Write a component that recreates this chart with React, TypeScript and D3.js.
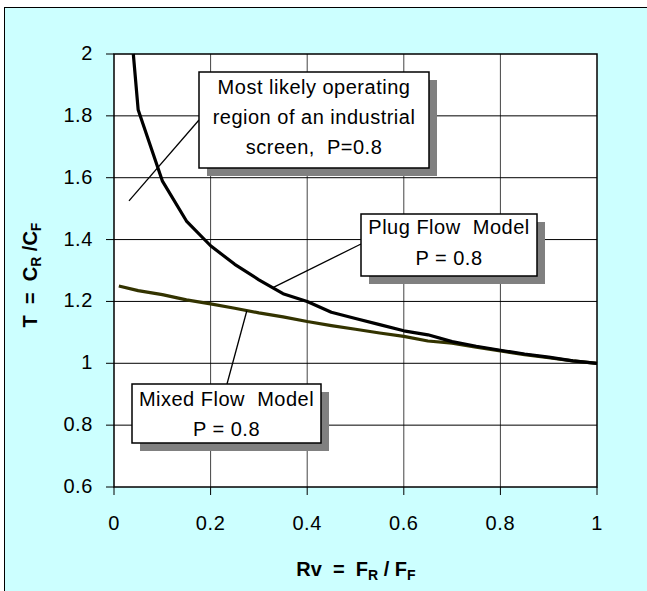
import React from "react";
import * as d3 from "d3";

const xTicks = [0, 0.2, 0.4, 0.6, 0.8, 1];
const yTicks = [0.6, 0.8, 1, 1.2, 1.4, 1.6, 1.8, 2];

const plugX = [0.04, 0.05, 0.1, 0.15, 0.2, 0.25, 0.3, 0.35, 0.4, 0.45, 0.5, 0.55, 0.6, 0.65, 0.7, 0.75, 0.8, 0.85, 0.9, 0.95, 1];
const plugY = [2.0, 1.82, 1.59, 1.46, 1.38, 1.32, 1.27, 1.225, 1.2, 1.165, 1.145, 1.125, 1.105, 1.092, 1.07, 1.055, 1.042, 1.03, 1.02, 1.008, 1.0];

const mixedX = [0.01, 0.05, 0.1, 0.15, 0.2, 0.25, 0.3, 0.35, 0.4, 0.45, 0.5, 0.55, 0.6, 0.65, 0.7, 0.75, 0.8, 0.85, 0.9, 0.95, 1];
const mixedY = [1.25, 1.235, 1.222, 1.205, 1.192, 1.178, 1.163, 1.15, 1.135, 1.122, 1.11, 1.098, 1.087, 1.072, 1.065, 1.052, 1.04, 1.028, 1.018, 1.008, 1.0];

const boxLines1 = ["Most likely operating", "region of an industrial", "screen,  P=0.8"];
const boxLines2 = ["Plug Flow  Model", "P = 0.8"];
const boxLines3 = ["Mixed Flow  Model", "P = 0.8"];

const W = 647, H = 591;
const L = 114, R = 597, T = 54, B = 487;
const FONT = "Arial, 'Liberation Sans', sans-serif";

export default function App() {
  const x = d3.scaleLinear().domain([0, 1]).range([L, R]);
  const y = d3.scaleLinear().domain([0.6, 2]).range([B, T]);
  const line = d3.line<[number, number]>().x(d => x(d[0])).y(d => y(d[1]));
  const plug = plugX.map((v, i) => [v, plugY[i]] as [number, number]);
  const mixed = mixedX.map((v, i) => [v, mixedY[i]] as [number, number]);

  const boxes = [
    { lines: boxLines1, x0: 199, y0: 72, w: 230, h: 96, base: 94, step: 30, from: [0.031, 1.525], to: [199, 120] },
    { lines: boxLines2, x0: 361, y0: 214, w: 176, h: 62, base: 234, step: 31, from: [0.327, 1.243], to: [361, 244] },
    { lines: boxLines3, x0: 132, y0: 384, w: 189, h: 59, base: 406, step: 30, from: [0.275, 1.17], to: [227, 384] },
  ];

  return (
    <svg width={W} height={H} style={{ position: "absolute", left: 0, top: 0, display: "block" }} fontFamily={FONT}>
      <rect x={0} y={0} width={W} height={H} fill="#ffffff" />
      <rect x={4.5} y={7.5} width={W + 20} height={H + 20} fill="#CCFFFF" stroke="#000" strokeWidth={1} />
      <rect x={L} y={T} width={R - L} height={B - T} fill="#ffffff" />
      {xTicks.slice(1, -1).map(t => (
        <line key={"gx" + t} x1={x(t)} x2={x(t)} y1={T} y2={B} stroke="#444" strokeWidth={1} />
      ))}
      {yTicks.slice(1, -1).map(t => (
        <line key={"gy" + t} x1={L} x2={R} y1={y(t)} y2={y(t)} stroke="#000" strokeWidth={1} />
      ))}
      {yTicks.map(t => (
        <g key={"ty" + t}>
          <line x1={L - 8} x2={L} y1={y(t)} y2={y(t)} stroke="#000" strokeWidth={1} />
          <text x={93} y={y(t) + 6} textAnchor="end" fontSize={20} letterSpacing={0.6} fill="#000">{String(t)}</text>
        </g>
      ))}
      {xTicks.map(t => (
        <g key={"tx" + t}>
          <line x1={x(t)} x2={x(t)} y1={B} y2={B + 8} stroke="#000" strokeWidth={1} />
          <text x={x(t)} y={530} textAnchor="middle" fontSize={20} letterSpacing={0.6} fill="#000">{String(t)}</text>
        </g>
      ))}
      <rect x={L} y={T} width={R - L} height={B - T} fill="none" stroke="#000" strokeWidth={1.5} />
      <defs>
        <clipPath id="plotclip"><rect x={L} y={T - 1} width={R - L + 3} height={B - T + 2} /></clipPath>
      </defs>
      <g clipPath="url(#plotclip)">
        <path d={line(mixed) || ""} fill="none" stroke="#333300" strokeWidth={3.2} strokeLinejoin="round" />
        <path d={line(plug) || ""} fill="none" stroke="#000" strokeWidth={3.2} strokeLinejoin="round" />
      </g>
      {boxes.map((b, i) => (
        <g key={"box" + i}>
          <line x1={x(b.from[0])} y1={y(b.from[1])} x2={b.to[0]} y2={b.to[1]} stroke="#000" strokeWidth={1.3} />
          <rect x={b.x0 + 8} y={b.y0 + 8} width={b.w} height={b.h} fill="#808080" />
          <rect x={b.x0} y={b.y0} width={b.w} height={b.h} fill="#fff" stroke="#000" strokeWidth={1.5} />
          {b.lines.map((s, j) => (
            <text key={j} x={b.x0 + b.w / 2} y={b.base + j * b.step} textAnchor="middle" fontSize={20} letterSpacing={0.5} fill="#000" style={{ whiteSpace: "pre" }}>{s}</text>
          ))}
        </g>
      ))}
      <text x={356} y={576} textAnchor="middle" fontSize={20} fontWeight="bold" fill="#000" style={{ whiteSpace: "pre" }}>
        <tspan>{"Rv  =  F"}</tspan>
        <tspan fontSize={14} dy={4}>R</tspan>
        <tspan dy={-4}>{" / F"}</tspan>
        <tspan fontSize={14} dy={4}>F</tspan>
      </text>
      <text transform="translate(37,275) rotate(-90)" textAnchor="middle" fontSize={20} fontWeight="bold" fill="#000" style={{ whiteSpace: "pre" }}>
        <tspan>{"T  =  C"}</tspan>
        <tspan fontSize={14} dy={4}>R</tspan>
        <tspan dy={-4}>{" /C"}</tspan>
        <tspan fontSize={14} dy={4}>F</tspan>
      </text>
    </svg>
  );
}
